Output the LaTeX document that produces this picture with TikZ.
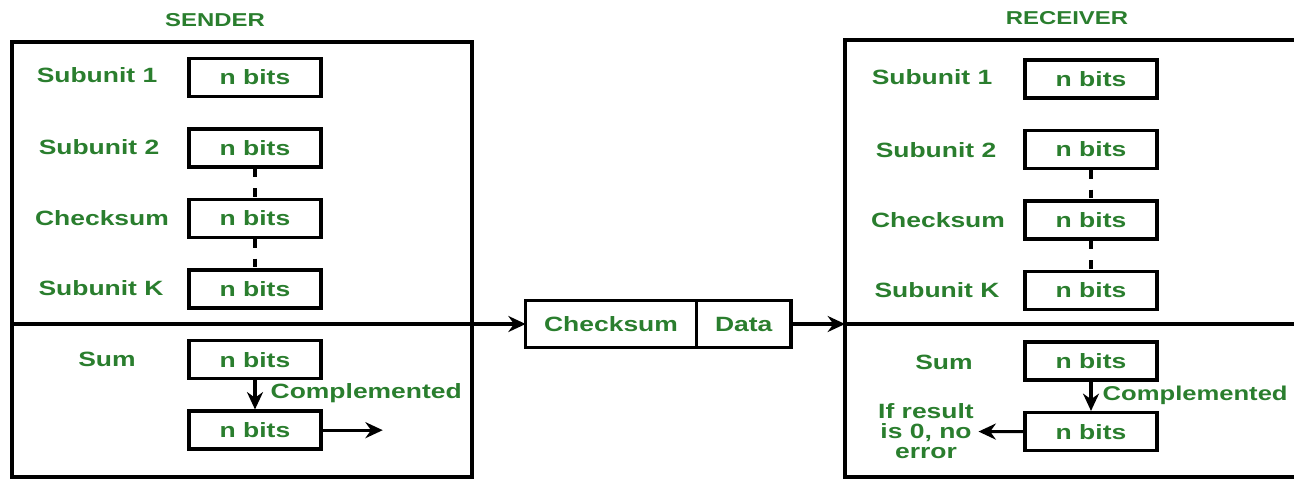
\documentclass[tikz,border=0pt]{standalone}
\usepackage{fontspec}
\setmainfont{Liberation Sans}[FakeStretch=1.28]
\usepackage{xcolor}
\usetikzlibrary{arrows.meta, positioning}
\definecolor{ggreen}{HTML}{2A7E2E}

\begin{document}
\begin{tikzpicture}[
  x=0.75pt, y=-0.75pt,
  node distance=21.8pt and 21.8pt,
  bitbox/.style={rectangle, draw=black, line width=2.6pt, minimum width=99pt,
    minimum height=28.5pt, font=\fontsize{15.5}{18}\selectfont\bfseries, text=ggreen},
  lbl/.style={font=\fontsize{15.5}{15}\selectfont\bfseries, text=ggreen, align=center},
  pkt/.style={bitbox, outer sep=0pt, minimum height=35pt},
  frame/.style={line width=2.4pt},
  arr/.style={-{Stealth[length=13pt, width=12pt]}, line width=2.3pt},
  dots/.style={line width=2.6pt, dash pattern=on 6.5pt off 8pt},
]
  \useasboundingbox (0,0) rectangle (1294,479);
  \clip (0,0) rectangle (1294,479);

  \node[lbl, font=\fontsize{14}{14}\selectfont\bfseries] (sender) at (215,20) {SENDER};
  \draw[frame] (12,42) rectangle (472,477);
  \node[bitbox] (s1) at (255,77.5) {n bits};
  \node[bitbox, below=of s1] (s2) {n bits};
  \node[bitbox, below=of s2] (s3) {n bits};
  \node[bitbox, below=of s3] (s4) {n bits};
  \node[bitbox, below=of s4] (s5) {n bits};
  \node[bitbox, below=of s5] (s6) {n bits};
  \node[lbl] (ls1) at (97,75) {Subunit 1};
  \node[lbl] (ls2) at (99,147) {Subunit 2};
  \node[lbl] (ls3) at (102,218) {Checksum};
  \node[lbl] (ls4) at (101,288) {Subunit K};
  \node[lbl] (ls5) at (107,359) {Sum};
  \node[lbl, anchor=west] (cs) at (266,393) {Complemented};
  \draw[dots] (s2) -- (s3);
  \draw[dots] (s3) -- (s4);
  \draw[arr] (s5) -- (s6);
  \coordinate[right=45pt of s6] (sout);
  \draw[arr] (s6) -- (sout);

  \node[pkt, minimum width=128pt] (ck) at (611,324) {Checksum};
  \node[pkt, minimum width=71pt, right=0pt of ck] (data) {Data};
  \coordinate (sin) at (12,324);
  \coordinate (rin) at (845,324);
  \coordinate (rout) at (1294,324);
  \draw[arr] (sin) -- (ck);
  \draw[arr] (data) -- (rin);

  \node[lbl, font=\fontsize{14}{14}\selectfont\bfseries] (receiver) at (1067,18) {RECEIVER};
  \draw[frame] (845,40) rectangle (1310,477);
  \draw[frame] (rin) -- (rout);
  \node[bitbox] (r1) at (1091,79) {n bits};
  \node[bitbox, below=of r1] (r2) {n bits};
  \node[bitbox, below=of r2] (r3) {n bits};
  \node[bitbox, below=of r3] (r4) {n bits};
  \node[bitbox, below=of r4] (r5) {n bits};
  \node[bitbox, below=of r5] (r6) {n bits};
  \node[lbl] (lr1) at (932,77) {Subunit 1};
  \node[lbl] (lr2) at (936,150) {Subunit 2};
  \node[lbl] (lr3) at (938,220) {Checksum};
  \node[lbl] (lr4) at (937,290) {Subunit K};
  \node[lbl] (lr5) at (944,362) {Sum};
  \node[lbl, anchor=west, font=\fontsize{15}{15}\selectfont\bfseries] (cr) at (1098,395) {Complemented};
  \node[lbl] (res) at (926,431.5) {If result\\is 0, no\\error};
  \draw[dots] (r2) -- (r3);
  \draw[dots] (r3) -- (r4);
  \draw[arr] (r5) -- (r6);
  \draw[arr] (r6) -- (res);
\end{tikzpicture}
\end{document}
